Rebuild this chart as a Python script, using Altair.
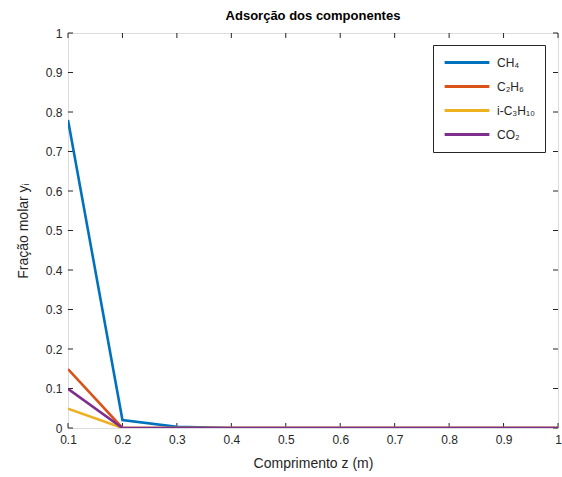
import altair as alt
import pandas as pd

z = [0.1, 0.2, 0.3, 0.4, 0.5, 0.6, 0.7, 0.8, 0.9, 1.0]
ch4 = [0.78, 0.02, 0.003, 0.0, 0.0, 0.0, 0.0, 0.0, 0.0, 0.0]
c2h6 = [0.149, 0.0, 0.0, 0.0, 0.0, 0.0, 0.0, 0.0, 0.0, 0.0]
ic4h10 = [0.049, 0.0, 0.0, 0.0, 0.0, 0.0, 0.0, 0.0, 0.0, 0.0]
co2 = [0.099, 0.0, 0.0, 0.0, 0.0, 0.0, 0.0, 0.0, 0.0, 0.0]

names = ["CH₄", "C₂H₆", "i-C₃H₁₀", "CO₂"]
colors = ["#0072BD", "#D95319", "#EDB120", "#7E2F8E"]
series = [ch4, c2h6, ic4h10, co2]

x_ticks = [0.1, 0.2, 0.3, 0.4, 0.5, 0.6, 0.7, 0.8, 0.9, 1.0]
y_ticks = [0.0, 0.1, 0.2, 0.3, 0.4, 0.5, 0.6, 0.7, 0.8, 0.9, 1.0]

rows = []
for i, (n, s) in enumerate(zip(names, series)):
    for xv, yv in zip(z, s):
        rows.append({"z": xv, "y": yv, "comp": n, "k": i})
df = pd.DataFrame(rows)

W, H = 490, 395
FONT = "Liberation Sans, DejaVu Sans, Arial, sans-serif"
AX = "#262626"
XT = "Comprimento z (m)"
YT = "Fração molar yᵢ"

xs = alt.Scale(domain=[0.1, 1.0], nice=False, zero=False)
ys = alt.Scale(domain=[0.0, 1.0], nice=False)

xaxis = alt.Axis(values=x_ticks, ticks=False, domain=False, grid=False,
                 labelPadding=6, labelFontSize=12, labelColor=AX,
                 labelOverlap=False, labelFlush=False,
                 titleFontSize=14, titleFontWeight="normal", titleColor=AX,
                 titlePadding=11, labelFont=FONT, titleFont=FONT,
                 labelExpr="datum.value == 1 ? '1' : format(datum.value, '.1f')")
yaxis = alt.Axis(values=y_ticks, ticks=False, domain=False, grid=False,
                 labelPadding=6, labelFontSize=12, labelColor=AX,
                 labelOverlap=False, labelFlush=False,
                 titleFontSize=14, titleFontWeight="normal", titleColor=AX,
                 titlePadding=15, labelFont=FONT, titleFont=FONT,
                 labelExpr="datum.value == 0 ? '0' : datum.value == 1 ? '1' : format(datum.value, '.1f')")

lines = alt.Chart(df).mark_line(strokeWidth=2.6, clip=True).encode(
    x=alt.X("z:Q", scale=xs, title=XT, axis=xaxis),
    y=alt.Y("y:Q", scale=ys, title=YT, axis=yaxis),
    color=alt.Color("comp:N", scale=alt.Scale(domain=names, range=colors), sort=names,
                    legend=alt.Legend(title=None, orient="none", legendX=365, legendY=12,
                                      symbolType="stroke", symbolSize=2000, symbolStrokeWidth=3,
                                      clipHeight=15, rowPadding=9, labelFontSize=12,
                                      labelFont=FONT, labelColor=AX, labelOffset=6,
                                      padding=10, strokeColor=AX, fillColor="white",
                                      cornerRadius=0)),
    order=alt.Order("k:Q"),
    detail="comp:N",
)

xt = pd.DataFrame({"v": x_ticks})
yt = pd.DataFrame({"v": y_ticks})
tick_style = dict(color=AX, strokeWidth=1)
xb = alt.Chart(xt).mark_rule(**tick_style).encode(x=alt.X("v:Q", scale=xs, title=XT, axis=xaxis), y=alt.value(H), y2=alt.value(H - 5))
xtop = alt.Chart(xt).mark_rule(**tick_style).encode(x=alt.X("v:Q", scale=xs, title=XT, axis=xaxis), y=alt.value(0), y2=alt.value(5))
yl = alt.Chart(yt).mark_rule(**tick_style).encode(y=alt.Y("v:Q", scale=ys, title=YT, axis=yaxis), x=alt.value(0), x2=alt.value(5))
yr = alt.Chart(yt).mark_rule(**tick_style).encode(y=alt.Y("v:Q", scale=ys, title=YT, axis=yaxis), x=alt.value(W), x2=alt.value(W - 5))

chart = alt.layer(xb, xtop, yl, yr, lines).properties(
    width=W, height=H,
    title=alt.TitleParams("Adsorção dos componentes", fontSize=13, fontWeight="bold",
                          font=FONT, color="black", offset=4, anchor="middle"),
    autosize=alt.AutoSizeParams(type="none"),
    padding={"left": 68, "top": 33, "right": 4, "bottom": 49},
).configure_view(stroke=AX, strokeWidth=1).configure(background="white")

chart.save("out.html", embed_options={"renderer": "svg", "actions": False})
